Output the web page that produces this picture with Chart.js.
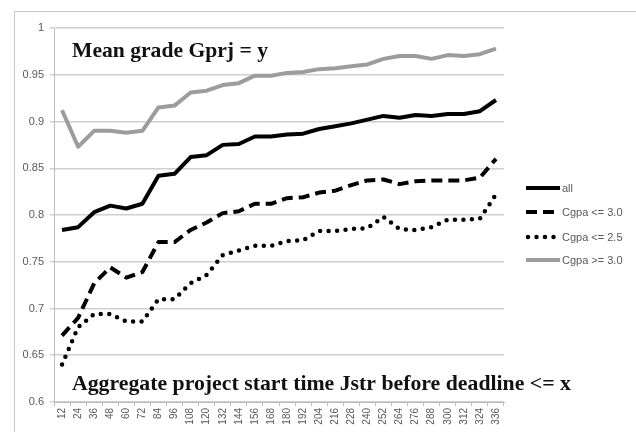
<!DOCTYPE html>
<html>
<head>
<meta charset="utf-8">
<script src="https://cdn.jsdelivr.net/npm/chart.js@4/dist/chart.umd.min.js"></script>
<style>
html,body{margin:0;padding:0;background:#fff;}
#wrap{width:636px;height:432px;position:relative;}
</style>
</head>
<body>
<div id="wrap"><canvas id="c" width="636" height="432"></canvas></div>
<script>
const categories = ['12','24','36','48','60','72','84','96','108','120','132','144','156','168','180','192','204','216','228','240','252','264','276','288','300','312','324','336'];
const seriesNames = ['all','Cgpa <= 3.0','Cgpa <= 2.5','Cgpa >= 3.0'];
const allValues = [0.784,0.787,0.803,0.810,0.807,0.812,0.842,0.844,0.862,0.864,0.875,0.876,0.884,0.884,0.886,0.887,0.892,0.895,0.898,0.902,0.906,0.904,0.907,0.906,0.908,0.908,0.911,0.923];
const le30Values = [0.671,0.690,0.727,0.744,0.733,0.739,0.771,0.771,0.784,0.792,0.802,0.804,0.812,0.812,0.818,0.819,0.824,0.826,0.832,0.837,0.838,0.833,0.836,0.837,0.837,0.837,0.840,0.860];
const le25Values = [0.640,0.680,0.694,0.694,0.686,0.686,0.710,0.710,0.727,0.736,0.757,0.762,0.767,0.767,0.772,0.773,0.783,0.783,0.785,0.786,0.798,0.785,0.784,0.787,0.795,0.795,0.796,0.822];
const ge30Values = [0.912,0.873,0.890,0.890,0.888,0.890,0.915,0.917,0.931,0.933,0.939,0.941,0.949,0.949,0.952,0.953,0.956,0.957,0.959,0.961,0.967,0.970,0.970,0.967,0.971,0.970,0.972,0.978];
const yTicks = [0.6,0.65,0.7,0.75,0.8,0.85,0.9,0.95,1];
const topText = 'Mean grade Gprj = y';
const bottomText = 'Aggregate project start time Jstr before deadline <= x';

const styles = [
  {color:'#000000', width:4, dash:[], cap:'butt'},
  {color:'#000000', width:4, dash:[11,6], cap:'butt'},
  {color:'#000000', width:4.5, dash:[0,8.5], cap:'round'},
  {color:'#9c9c9c', width:4, dash:[], cap:'butt'}
];
const seriesValues = [allValues, le30Values, le25Values, ge30Values];

const datasets = seriesValues.map((vals,i)=>({
  label: seriesNames[i],
  data: vals,
  borderColor: styles[i].color,
  borderWidth: styles[i].width,
  borderDash: styles[i].dash,
  borderCapStyle: styles[i].cap,
  borderJoinStyle: 'round',
  pointRadius: 0,
  pointHoverRadius: 0,
  tension: 0,
  fill: false
}));

function fitText(ctx, text, x, y, width){
  const w = ctx.measureText(text).width;
  ctx.save();
  ctx.translate(x, y);
  ctx.scale(width / w, 1);
  ctx.fillText(text, 0, 0);
  ctx.restore();
}

const decor = {
  id: 'decor',
  beforeDraw(chart){
    const ctx = chart.ctx;
    ctx.save();
    ctx.fillStyle = '#fff';
    ctx.fillRect(0,0,chart.width,chart.height);
    ctx.strokeStyle = '#c8c8c8';
    ctx.lineWidth = 1;
    ctx.strokeRect(14.5,11.5,700,500);
    ctx.restore();
  },
  afterDraw(chart){
    const ctx = chart.ctx;
    ctx.save();
    ctx.fillStyle = '#111';
    ctx.textBaseline = 'alphabetic';
    ctx.textAlign = 'left';
    ctx.font = 'bold 21px "Liberation Serif", "Times New Roman", serif';
    fitText(ctx, topText, 72, 57, 196);
    ctx.font = 'bold 22px "Liberation Serif", "Times New Roman", serif';
    fitText(ctx, bottomText, 72, 390, 499);
    // legend
    const ys = [188,212,237,260];
    for(let i=0;i<4;i++){
      const s = styles[i];
      ctx.beginPath();
      ctx.strokeStyle = s.color;
      ctx.lineWidth = s.width;
      ctx.setLineDash(s.dash);
      ctx.lineCap = s.cap === 'round' ? 'round' : 'butt';
      ctx.moveTo(i===2?528:526, ys[i]);
      ctx.lineTo(560, ys[i]);
      ctx.stroke();
      ctx.setLineDash([]);
      ctx.fillStyle = '#595959';
      ctx.font = '11px "Liberation Sans", Arial, sans-serif';
      ctx.textBaseline = 'middle';
      ctx.fillText(seriesNames[i], 562, ys[i]+1);
    }
    ctx.restore();
  }
};

new Chart(document.getElementById('c'), {
  type: 'line',
  data: {labels: categories, datasets: datasets},
  options: {
    responsive: false,
    animation: false,
    devicePixelRatio: 1,
    layout: {padding: {left: 0, right: 132, top: 28, bottom: 0}},
    plugins: {legend: {display: false}, tooltip: {enabled: false}},
    scales: {
      x: {
        type: 'category',
        offset: true,
        grid: {display: true, drawOnChartArea: false, offset: true, color: '#bdbdbd', tickLength: 4},
        border: {display: true, color: '#bdbdbd', width: 1},
        ticks: {color: '#595959', font: {size: 10, family: '"Liberation Sans", Arial, sans-serif'}, minRotation: 90, maxRotation: 90, autoSkip: false, padding: 2},
        afterFit(scale){ scale.height = 30; }
      },
      y: {
        min: 0.6, max: 1,
        afterBuildTicks(scale){ scale.ticks = yTicks.map(v=>({value:v})); },
        grid: {color: '#cfcfcf', lineWidth: 1.5, tickLength: 4},
        border: {display: true, color: '#bdbdbd', width: 1},
        ticks: {color: '#595959', font: {size: 11, family: '"Liberation Sans", Arial, sans-serif'}, padding: 6,
          callback: (v)=> String(Math.round(v*100)/100)},
        afterFit(scale){ scale.width = 54; }
      }
    }
  },
  plugins: [decor]
});
</script>
</body>
</html>
